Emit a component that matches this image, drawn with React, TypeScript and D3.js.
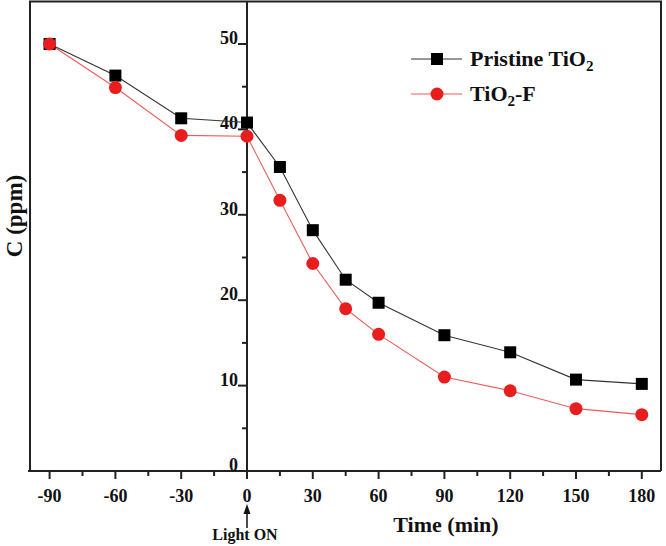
import React from "react";
import * as d3 from "d3";

const times = [-90, -60, -30, 0, 15, 30, 45, 60, 90, 120, 150, 180];
const pristine = [50, 46.3, 41.3, 40.8, 35.6, 28.2, 22.4, 19.7, 15.9, 13.9, 10.7, 10.2];
const tio2f = [50, 44.9, 39.3, 39.2, 31.7, 24.3, 19.0, 16.0, 11.0, 9.4, 7.3, 6.6];
const xMajor = [-90, -60, -30, 0, 30, 60, 90, 120, 150, 180];
const xMinor = [-75, -45, -15, 15, 45, 75, 105, 135, 165];
const yMajor = [0, 10, 20, 30, 40, 50];
const yMinor = [5, 15, 25, 35, 45];

const W = 666, H = 546;
const FONT = "'Liberation Serif', 'Times New Roman', serif";

export default function App() {
  const x = d3.scaleLinear().domain([-90, 180]).range([49.6, 641.8]);
  const y = d3.scaleLinear().domain([0, 55]).range([471, 1.3]);
  const frameL = 30, frameR = 661, frameT = 1.5, frameB = 471;
  const line = d3.line<number>().x((_, i) => x(times[i])).y((d) => y(d));
  const blackC = "#000", redC = "#e81e1e";
  return (
    <svg width={W} height={H} style={{ position: "absolute", left: 0, top: 0, background: "#fff" }}>
      <rect x={0} y={0} width={W} height={H} fill="#fff" />
      {/* frame */}
      <path d={`M${frameL},${frameB}V${frameT}H${frameR}V${frameB}`} fill="none" stroke="#222" strokeWidth={2} />
      <line x1={frameL - 2} x2={frameR} y1={frameB} y2={frameB} stroke="#222" strokeWidth={2} />
      {/* y axis at x=0 */}
      <line x1={x(0)} x2={x(0)} y1={frameT} y2={frameB} stroke="#222" strokeWidth={2} />
      {yMajor.map((v) => (
        <g key={"ym" + v}>
          <line x1={x(0) - 9} x2={x(0)} y1={y(v)} y2={y(v)} stroke="#222" strokeWidth={2} />
          <text x={x(0) - 9} y={y(v)} textAnchor="end" fontFamily={FONT} fontWeight="bold" fontSize={18} fill="#111">{v}</text>
        </g>
      ))}
      {yMinor.map((v) => (
        <line key={"yn" + v} x1={x(0) - 5} x2={x(0)} y1={y(v)} y2={y(v)} stroke="#222" strokeWidth={2} />
      ))}
      {/* x ticks */}
      {xMajor.map((v) => (
        <g key={"xm" + v}>
          <line x1={x(v)} x2={x(v)} y1={frameB} y2={frameB + 8} stroke="#222" strokeWidth={2} />
          <text x={x(v)} y={502} textAnchor="middle" fontFamily={FONT} fontWeight="bold" fontSize={18} fill="#111">{v}</text>
        </g>
      ))}
      {xMinor.map((v) => (
        <line key={"xn" + v} x1={x(v)} x2={x(v)} y1={frameB} y2={frameB + 5} stroke="#222" strokeWidth={2} />
      ))}
      {/* Light ON arrow */}
      <line x1={x(0)} x2={x(0)} y1={528} y2={512} stroke="#111" strokeWidth={1.5} />
      <path d={`M${x(0) - 3.5},${514}L${x(0)},${504}L${x(0) + 3.5},${514}Z`} fill="#111" />
      <text x={x(0) - 2} y={540} textAnchor="middle" fontFamily={FONT} fontWeight="bold" fontSize={16} fill="#111">Light ON</text>
      {/* axis titles */}
      <text x={446} y={532} textAnchor="middle" fontFamily={FONT} fontWeight="bold" fontSize={22} fill="#111">Time (min)</text>
      <text transform={`translate(22,216) rotate(-90)`} textAnchor="middle" fontFamily={FONT} fontWeight="bold" fontSize={23} fill="#111">C (ppm)</text>
      {/* lines */}
      <path d={line(pristine) || ""} fill="none" stroke="#333" strokeWidth={1.1} />
      <path d={line(tio2f) || ""} fill="none" stroke="#f05a5a" strokeWidth={1.1} />
      {pristine.map((v, i) => (
        <rect key={"p" + i} x={x(times[i]) - 6} y={y(v) - 6} width={12} height={12} fill={blackC} />
      ))}
      {tio2f.map((v, i) => (
        <circle key={"f" + i} cx={x(times[i])} cy={y(v)} r={6.5} fill={redC} />
      ))}
      {/* legend */}
      <line x1={411} x2={462} y1={59} y2={59} stroke="#333" strokeWidth={1.1} />
      <rect x={431} y={53} width={12} height={12} fill={blackC} />
      <text x={470} y={66} fontFamily={FONT} fontWeight="bold" fontSize={22} fill="#111">
        Pristine TiO<tspan fontSize={15} dy={5}>2</tspan>
      </text>
      <line x1={411} x2={462} y1={94} y2={94} stroke="#f05a5a" strokeWidth={1.1} />
      <circle cx={437} cy={94} r={6.5} fill={redC} />
      <text x={470} y={101} fontFamily={FONT} fontWeight="bold" fontSize={22} fill="#111">
        TiO<tspan fontSize={15} dy={5}>2</tspan><tspan dy={-5}>-F</tspan>
      </text>
    </svg>
  );
}
